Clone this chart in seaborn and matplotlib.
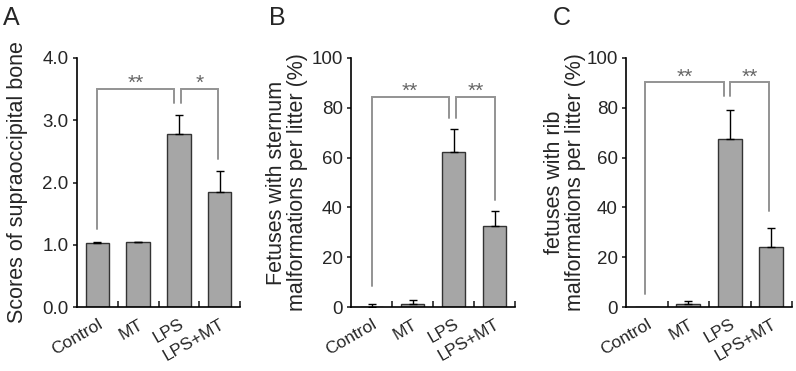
import matplotlib
matplotlib.use("Agg")
import matplotlib.pyplot as plt
import numpy as np
import pandas as pd
import seaborn as sns

groups = ["Control", "MT", "LPS", "LPS+MT"]

score_mean = [1.03, 1.04, 2.78, 1.85]
score_err = [0.01, 0.01, 0.31, 0.33]

sternum_mean = [0.0, 1.2, 62.4, 32.5]
sternum_err = [1.1, 1.6, 9.0, 6.2]

rib_mean = [0.0, 1.1, 67.6, 24.2]
rib_err = [0.0, 1.3, 11.5, 7.4]

# significance brackets: (left x, right x, top y, left leg end, right leg end, stars)
score_sig = [(0.0, 1.89, 3.5, 1.26, 3.27, "**"), (2.05, 2.96, 3.5, 3.27, 2.38, "*")]
sternum_sig = [(0.0, 1.89, 84.5, 8.3, 75.9, "**"), (2.07, 3.0, 84.5, 75.9, 43.0, "**")]
rib_sig = [(-0.05, 1.87, 90.2, 5.4, 84.7, "**"), (2.0, 2.95, 90.2, 84.7, 38.4, "**")]

BAR = "#a6a6a6"
EDGE = "#333333"
SIG = "#939393"

sns.set_style("white")
plt.rcParams["font.family"] = ["Liberation Sans", "DejaVu Sans"]


def draw_panel(ax, mean, err, top, step, fmt, ylabel, label_x, brackets):
    df = pd.DataFrame({"group": groups, "value": mean})
    sns.barplot(data=df, x="group", y="value", ax=ax, color=BAR, width=0.58,
                edgecolor=EDGE, linewidth=1, errorbar=None, saturation=1)

    x = np.arange(len(groups))
    err = np.asarray(err)
    mean = np.asarray(mean)
    has = err > 0
    ax.errorbar(x[has], mean[has], yerr=[np.zeros(has.sum()), err[has]],
                fmt="none", ecolor="black", elinewidth=1, capsize=3, capthick=1)

    for x0, x1, yt, yl, yr, stars in brackets:
        ax.plot([x0, x0, x1, x1], [yl, yt, yt, yr], color=SIG, lw=1.4,
                clip_on=False, solid_joinstyle="miter")
        ax.text((x0 + x1) / 2, yt, stars, ha="center", va="baseline",
                fontsize=15, color="#666666")

    ax.set_xlim(-0.5, 3.5)
    ax.set_ylim(0, top)
    ticks = np.arange(0, top + step / 2, step)
    ax.set_yticks(ticks)
    ax.set_yticklabels([fmt.format(t) for t in ticks])
    ax.tick_params(axis="y", direction="out", length=3, width=1.2, pad=3,
                   labelsize=13.5, left=True)

    ax.set_xticks(x)
    ax.set_xticklabels(groups, rotation=30, ha="right", va="top",
                       rotation_mode="anchor")
    ax.tick_params(axis="x", which="major", length=0, pad=7, labelsize=12.5)
    ax.set_xticks(np.arange(0.5, 4, 1), minor=True)
    ax.tick_params(axis="x", which="minor", direction="in", length=4,
                   width=1.2, bottom=True)

    ax.set_xlabel("")
    ax.set_ylabel(ylabel, fontsize=15.5, linespacing=1.0)
    ax.yaxis.set_label_coords(label_x, 0.5)

    sns.despine(ax=ax)
    for side in ["left", "bottom"]:
        ax.spines[side].set_color("black")
        ax.spines[side].set_linewidth(1.2)


fig = plt.figure(figsize=(7.96, 3.71), dpi=100)
W, H = 796, 371

axes = []
for left, right in [(77, 240), (351, 515), (626, 792)]:
    axes.append(fig.add_axes([left / W, 1 - 307 / H, (right - left) / W, (307 - 58) / H]))

draw_panel(axes[0], score_mean, score_err, 4.0, 1.0, "{:.1f}",
           "Scores of supraoccipital bone", -0.30, score_sig)
draw_panel(axes[1], sternum_mean, sternum_err, 100, 20, "{:.0f}",
           "Fetuses with sternum\nmalformations per litter (%)", -0.262, sternum_sig)
draw_panel(axes[2], rib_mean, rib_err, 100, 20, "{:.0f}",
           "fetuses with rib\nmalformations per litter (%)", -0.241, rib_sig)

for letter, px in [("A", 3), ("B", 269), ("C", 553)]:
    fig.text(px / W, 1 - 25 / H, letter, fontsize=18, va="baseline", ha="left")

fig.savefig("out.png", dpi=100)
